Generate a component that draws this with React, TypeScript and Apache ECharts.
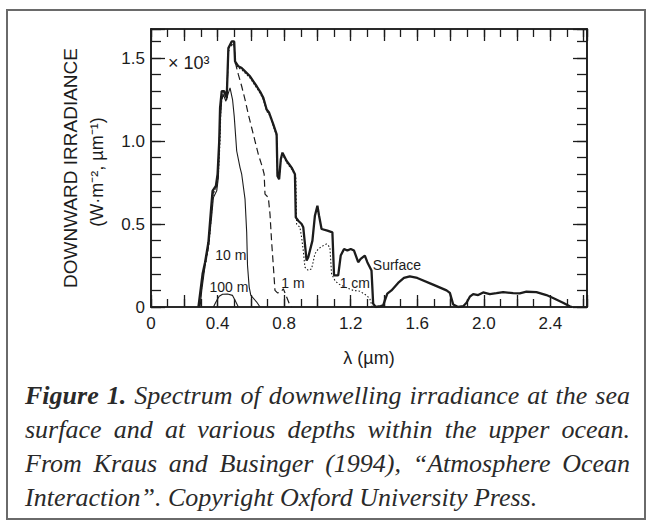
import React, { useEffect, useRef } from 'react';
import * as echarts from 'echarts';

// ---------- data (λ in µm, irradiance in 10^3 W·m-2·µm-1) ----------
const surface: [number, number][] = [
  [0.285, 0], [0.3, 0.12], [0.31, 0.2], [0.325, 0.27], [0.345, 0.39], [0.36, 0.58], [0.37, 0.7],
  [0.39, 0.73], [0.4, 0.8], [0.41, 1.0], [0.415, 1.2], [0.425, 1.3], [0.44, 1.3], [0.455, 1.26],
  [0.465, 1.56], [0.485, 1.6], [0.5, 1.6], [0.505, 1.48], [0.525, 1.45], [0.545, 1.44], [0.565, 1.42],
  [0.595, 1.39], [0.635, 1.33], [0.66, 1.29], [0.675, 1.26], [0.695, 1.19], [0.71, 1.17], [0.735, 1.1],
  [0.755, 1.04], [0.76, 0.79], [0.77, 0.77], [0.78, 0.89], [0.79, 0.93], [0.8, 0.91], [0.815, 0.88],
  [0.83, 0.86], [0.845, 0.84], [0.865, 0.8], [0.87, 0.54], [0.885, 0.52], [0.905, 0.5], [0.915, 0.48],
  [0.935, 0.28], [0.945, 0.3], [0.97, 0.4], [0.985, 0.55], [1.0, 0.61], [1.01, 0.55], [1.025, 0.47],
  [1.06, 0.46], [1.09, 0.45], [1.1, 0.19], [1.125, 0.19], [1.14, 0.31], [1.16, 0.35], [1.18, 0.34],
  [1.2, 0.35], [1.22, 0.34], [1.245, 0.27], [1.26, 0.29], [1.285, 0.31], [1.3, 0.27], [1.325, 0.22],
  [1.335, 0.02], [1.35, 0], [1.38, 0.005], [1.395, 0.01], [1.42, 0.08], [1.445, 0.1], [1.485, 0.145],
  [1.52, 0.175], [1.555, 0.185], [1.6, 0.175], [1.695, 0.135], [1.776, 0.1], [1.796, 0.085],
  [1.816, 0.015], [1.846, 0], [1.876, 0.005], [1.896, 0.026], [1.916, 0.062], [1.936, 0.078],
  [1.966, 0.072], [1.996, 0.088], [2.036, 0.078], [2.076, 0.083], [2.116, 0.09], [2.176, 0.083],
  [2.216, 0.082], [2.256, 0.092], [2.316, 0.09], [2.376, 0.072], [2.416, 0.054], [2.476, 0.026],
  [2.516, 0.004], [2.53, 0],
];

const oneCm: [number, number][] = [
  [0.29, 0], [0.305, 0.12], [0.315, 0.2], [0.33, 0.27], [0.35, 0.39], [0.365, 0.58], [0.375, 0.69],
  [0.395, 0.72], [0.405, 0.8], [0.415, 1.0], [0.42, 1.2], [0.43, 1.29], [0.44, 1.29], [0.455, 1.25],
  [0.465, 1.55], [0.485, 1.59], [0.5, 1.59], [0.505, 1.47], [0.525, 1.44], [0.545, 1.43], [0.565, 1.41],
  [0.595, 1.38], [0.635, 1.32], [0.66, 1.28], [0.675, 1.25], [0.695, 1.18], [0.71, 1.16], [0.735, 1.09],
  [0.755, 1.03], [0.76, 0.79], [0.77, 0.77], [0.78, 0.88], [0.79, 0.92], [0.8, 0.9],
  [0.815, 0.87], [0.83, 0.85], [0.845, 0.83], [0.87, 0.79], [0.875, 0.5], [0.895, 0.48], [0.905, 0.42],
  [0.915, 0.34], [0.925, 0.24], [0.945, 0.22], [0.965, 0.23], [0.985, 0.32], [1.005, 0.35],
  [1.035, 0.37], [1.055, 0.38], [1.075, 0.36], [1.085, 0.2], [1.105, 0.16], [1.125, 0.14],
  [1.165, 0.12], [1.215, 0.1], [1.255, 0.095], [1.295, 0.07], [1.315, 0.05], [1.33, 0],
];

const oneM: [number, number][] = [
  [0.29, 0], [0.3, 0.1], [0.32, 0.24], [0.345, 0.37], [0.36, 0.56], [0.37, 0.68], [0.39, 0.71],
  [0.4, 0.78], [0.41, 1.0], [0.42, 1.25], [0.44, 1.28], [0.455, 1.25], [0.465, 1.54], [0.485, 1.58],
  [0.5, 1.58], [0.505, 1.48], [0.525, 1.4], [0.545, 1.33], [0.565, 1.25], [0.585, 1.16], [0.605, 1.08],
  [0.625, 1.0], [0.645, 0.92], [0.67, 0.84], [0.68, 0.8], [0.685, 0.68], [0.705, 0.66], [0.715, 0.56],
  [0.725, 0.39], [0.735, 0.25], [0.745, 0.1], [0.76, 0.085], [0.78, 0.09], [0.795, 0.11], [0.815, 0.06],
  [0.835, 0.01], [0.845, 0],
];

const tenM: [number, number][] = [
  [0.295, 0], [0.305, 0.1], [0.325, 0.25], [0.345, 0.36], [0.365, 0.55], [0.375, 0.66], [0.395, 0.7],
  [0.405, 0.78], [0.415, 1.1], [0.425, 1.25], [0.435, 1.28], [0.45, 1.24], [0.462, 1.28], [0.475, 1.32],
  [0.49, 1.25], [0.5, 1.15], [0.515, 0.94], [0.535, 0.84], [0.545, 0.8], [0.565, 0.65], [0.575, 0.45],
  [0.58, 0.25], [0.59, 0.12], [0.6, 0.07], [0.635, 0.03], [0.655, 0],
];

const hundredM: [number, number][] = [
  [0.375, 0], [0.39, 0.03], [0.41, 0.065], [0.43, 0.077], [0.46, 0.078], [0.49, 0.07], [0.505, 0.04],
  [0.525, 0],
];

const seriesNames = ['Surface', '1 cm', '1 m', '10 m', '100 m'];
const xTickLabels = ['0', '0.4', '0.8', '1.2', '1.6', '2.0', '2.4'];
const yTickLabels = ['0', '0.5', '1.0', '1.5'];

const yNameLine1 = 'DOWNWARD IRRADIANCE';
const yNameLine2 = '(W·m⁻², µm⁻¹)';
const xName = 'λ (µm)';
const scaleNote = '× 10³';

const captionLines = [
  'Figure 1. Spectrum of downwelling irradiance at the sea',
  'surface and at various depths within the upper ocean.',
  'From Kraus and Businger (1994), “Atmosphere Ocean',
  'Interaction”. Copyright Oxford University Press.',
];

// label anchors in data coordinates (λ, value)
const curveLabels: { text: string; at: [number, number]; align: string }[] = [
  { text: '10 m', at: [0.48, 0.313], align: 'center' },
  { text: '100 m', at: [0.468, 0.12], align: 'center' },
  { text: '1 m', at: [0.853, 0.145], align: 'center' },
  { text: '1 cm', at: [1.225, 0.145], align: 'center' },
  { text: 'Surface', at: [1.333, 0.253], align: 'left' },
];

const XMAX = 2.62;
const YMAX = 1.675;
const INK = '#1c1c1c';
const SANS = '"Liberation Sans", Arial, Helvetica, sans-serif';
const SERIF = '"Liberation Serif", "Times New Roman", serif';

function fmtX(v: number) {
  const k = Math.round(v / 0.4);
  if (Math.abs(v - k * 0.4) < 1e-6 && k < xTickLabels.length) return xTickLabels[k];
  return '';
}
function fmtY(v: number) {
  const k = Math.round(v / 0.5);
  if (Math.abs(v - k * 0.5) < 1e-6 && k < yTickLabels.length) return yTickLabels[k];
  return '';
}

export default function App() {
  const ref = useRef<HTMLDivElement>(null);

  useEffect(() => {
    const el = ref.current!;
    const chart = echarts.init(el, null, { renderer: 'svg', width: 651, height: 526 });

    const xAx = (position: string, interval: number, len: number, label: boolean) => ({
      type: 'value', position, min: 0, max: XMAX, interval,
      axisLine: { show: true, onZero: false, lineStyle: { color: INK, width: 1.6 } },
      axisTick: { show: true, inside: true, length: len, lineStyle: { color: INK, width: 1.3 } },
      axisLabel: label
        ? { show: true, formatter: fmtX, color: INK, fontFamily: SANS, fontSize: 17, margin: 8, showMinLabel: true, showMaxLabel: true }
        : { show: false },
      splitLine: { show: false },
    });
    const yAx = (position: string, interval: number, len: number, label: boolean) => ({
      type: 'value', position, min: 0, max: YMAX, interval,
      axisLine: { show: true, onZero: false, lineStyle: { color: INK, width: 1.6 } },
      axisTick: { show: true, inside: true, length: len, lineStyle: { color: INK, width: 1.3 } },
      axisLabel: label
        ? { show: true, formatter: fmtY, color: INK, fontFamily: SANS, fontSize: 17, margin: 6, showMinLabel: true, showMaxLabel: true }
        : { show: false },
      splitLine: { show: false },
    });

    const line = (name: string, data: [number, number][], width: number, type: any, z: number) => ({
      type: 'line', name, data, xAxisIndex: 0, yAxisIndex: 0,
      showSymbol: false, symbol: 'none', silent: true, z,
      lineStyle: { color: INK, width, type },
    });

    chart.setOption({
      animation: false,
      backgroundColor: '#ffffff',
      grid: { left: 151, right: 64, top: 29, bottom: 219, containLabel: false },
      xAxis: [xAx('bottom', 0.2, 12, true), xAx('top', 0.2, 12, false), xAx('bottom', 0.1, 8, false), xAx('top', 0.1, 8, false)],
      yAxis: [yAx('left', 0.5, 14, true), yAx('right', 0.5, 14, false), yAx('left', 0.1, 10, false), yAx('right', 0.1, 10, false)],
      series: [
        line(seriesNames[4], hundredM, 1.1, 'solid', 2),
        line(seriesNames[3], tenM, 1.1, 'solid', 3),
        line(seriesNames[2], oneM, 1.2, [7, 4], 4),
        line(seriesNames[1], oneCm, 1.1, [1.5, 2], 5),
        line(seriesNames[0], surface, 2.3, 'solid', 6),
      ],
    });

    // caption justification via canvas text metrics
    const canvas = document.createElement('canvas');
    const ctx = canvas.getContext('2d')!;
    const FS = 26;
    const fIt = `italic ${FS}px ${SERIF}`;
    const fBold = `italic bold ${FS}px ${SERIF}`;
    const measure = (t: string, f: string) => { ctx.font = f; return ctx.measureText(t).width; };
    const CAP_L = 25, CAP_R = 630;
    const capY = [395, 429, 463, 497];
    const captionEls: any[] = [];
    captionLines.forEach((ln, i) => {
      const words = ln.split(' ');
      const fonts = words.map((_, j) => (i === 0 && j < 2 ? fBold : fIt));
      const widths = words.map((w, j) => measure(w, fonts[j]));
      const total = widths.reduce((a, b) => a + b, 0);
      const natGap = measure(' ', fIt);
      const justify = i < captionLines.length - 1;
      const gap = justify ? Math.max(natGap * 0.6, (CAP_R - CAP_L - total) / (words.length - 1)) : natGap;
      let x = CAP_L;
      words.forEach((w, j) => {
        captionEls.push({
          type: 'text', x, y: capY[i], silent: true,
          style: { text: w, font: fonts[j], fill: '#2a2a2a', textAlign: 'left', textVerticalAlign: 'middle', align: 'left', verticalAlign: 'middle' },
        });
        x += widths[j] + gap;
      });
    });

    const labelEls = curveLabels.map((l) => {
      const p = chart.convertToPixel({ xAxisIndex: 0, yAxisIndex: 0 }, l.at) as number[];
      return {
        type: 'text', x: p[0], y: p[1], silent: true, z: 20,
        style: { text: l.text, font: `14px ${SANS}`, fill: INK, textAlign: l.align, align: l.align, textVerticalAlign: 'middle', verticalAlign: 'middle' },
      };
    });

    chart.setOption({
      graphic: [
        { type: 'rect', shape: { x: 7, y: 10, width: 638, height: 509 }, silent: true, style: { fill: 'none', stroke: '#6a6a6a', lineWidth: 2 } },
        { type: 'text', x: 70, y: 168, rotation: Math.PI / 2, silent: true,
          style: { text: yNameLine1, font: `19px ${SANS}`, fill: INK, textAlign: 'center', align: 'center', textVerticalAlign: 'middle', verticalAlign: 'middle' } },
        { type: 'text', x: 97, y: 172, rotation: Math.PI / 2, silent: true,
          style: { text: yNameLine2, font: `18px ${SANS}`, fill: INK, textAlign: 'center', align: 'center', textVerticalAlign: 'middle', verticalAlign: 'middle' } },
        { type: 'text', x: 369, y: 358, silent: true,
          style: { text: xName, font: `18px ${SANS}`, fill: INK, textAlign: 'center', align: 'center', textVerticalAlign: 'middle', verticalAlign: 'middle' } },
        { type: 'text', x: 168, y: 63, silent: true,
          style: { text: scaleNote, font: `18px ${SANS}`, fill: INK, textAlign: 'left', align: 'left', textVerticalAlign: 'middle', verticalAlign: 'middle' } },
        ...labelEls,
        ...captionEls,
      ],
    });

    return () => chart.dispose();
  }, []);

  return (
    <div
      ref={ref}
      style={{ position: 'absolute', left: 0, top: 0, width: 651, height: 526, background: '#ffffff' }}
    />
  );
}
